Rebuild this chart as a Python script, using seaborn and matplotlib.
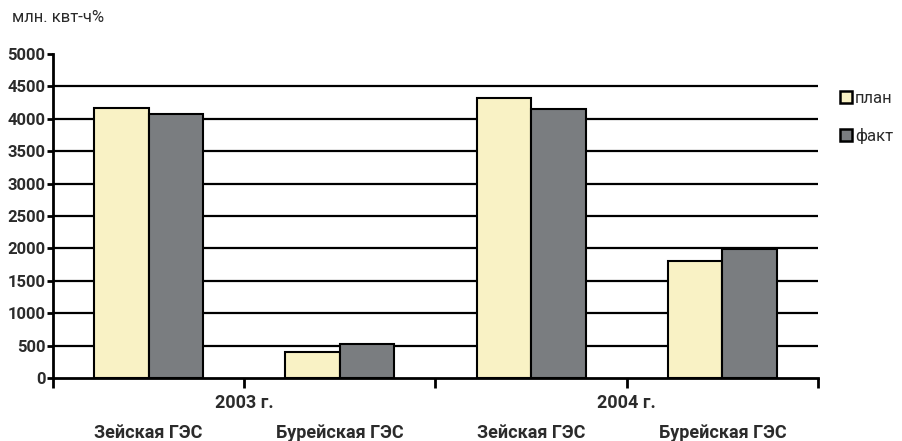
import matplotlib
matplotlib.use("Agg")
import matplotlib.pyplot as plt
import seaborn as sns
import pandas as pd
from matplotlib.patches import Patch

# ---- data ----
stations = ["Зейская ГЭС", "Бурейская ГЭС", "Зейская ГЭС", "Бурейская ГЭС"]
years = ["2003 г.", "2003 г.", "2004 г.", "2004 г."]
plan = [4160, 400, 4320, 1800]
fact = [4080, 520, 4150, 1985]
series = ["план", "факт"]
yticks = [0, 500, 1000, 1500, 2000, 2500, 3000, 3500, 4000, 4500, 5000]
unit_label = "млн. квт-ч%"

keys = [f"{y} {s}" for y, s in zip(years, stations)]
df = pd.DataFrame({
    "key": keys * 2,
    "series": [series[0]] * 4 + [series[1]] * 4,
    "value": plan + fact,
})

sns.set_theme(style="white")
plt.rcParams["font.family"] = ["Roboto", "DejaVu Sans"]
txt = "#2b2b2b"

fig = plt.figure(figsize=(9.03, 4.41), dpi=100)
ax = fig.add_axes([53 / 903, 1 - 378 / 441, (818 - 53) / 903, (378 - 54) / 441])

colors = {"план": "#F9F2C5", "факт": "#7A7D80"}
sns.barplot(data=df, x="key", y="value", hue="series", order=keys,
            palette=colors, width=0.57, edgecolor="black", linewidth=1.5,
            saturation=1, ax=ax, legend=False, zorder=3)

ax.set_xlim(-0.5, 3.5)
ax.set_ylim(0, 5000)
ax.set_yticks(yticks)
ax.set_yticklabels([str(v) for v in yticks], fontsize=12, fontweight="bold", color=txt)
ax.set_xlabel("")
ax.set_ylabel("")

# grid lines
ax.yaxis.grid(True, color="black", linewidth=1.6)
ax.set_axisbelow(True)
gl = ax.yaxis.get_gridlines()
gl[-1].set_visible(False)
gl[0].set_visible(False)

for s in ["top", "right"]:
    ax.spines[s].set_visible(False)
for s in ["left", "bottom"]:
    ax.spines[s].set_color("black")
    ax.spines[s].set_linewidth(2)

ax.tick_params(axis="y", which="major", direction="out", length=4.5, width=2,
               color="black", pad=1, left=True)

# station labels (major) and year labels / group separators (minor)
ax.set_xticks(range(len(keys)))
ax.set_xticklabels(stations, fontsize=13, fontweight="bold", color=txt)
ax.tick_params(axis="x", which="major", length=0, pad=33)

ax.set_xticks([-0.5, 0.5, 1.5, 2.5, 3.5], minor=True)
ax.set_xticklabels(["", years[0], "", years[2], ""], minor=True,
                   fontsize=13, fontweight="bold", color=txt)
ax.tick_params(axis="x", which="minor", direction="out", length=7.2, width=2,
               color="black", pad=4, bottom=True)

fig.text(12 / 903, 1 - 18 / 441, unit_label, fontsize=12, color=txt,
         va="center", ha="left")

handles = [Patch(facecolor=colors[s], edgecolor="black", linewidth=1.8, label=s)
           for s in series]
leg = fig.legend(handles=handles, loc="upper left",
                 bbox_to_anchor=(840 / 903, 1 - 91 / 441), frameon=False,
                 fontsize=12, handlelength=0.7, handleheight=0.7,
                 handletextpad=0.2, labelspacing=1.3, borderpad=0,
                 borderaxespad=0)
for t in leg.get_texts():
    t.set_color(txt)

fig.savefig("out.png", dpi=100)
